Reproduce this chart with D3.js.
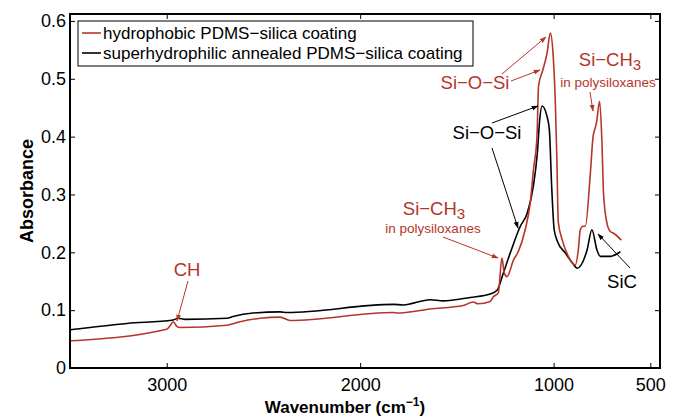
<!DOCTYPE html>
<html>
<head>
<meta charset="utf-8">
<script src="https://cdn.jsdelivr.net/npm/d3@7"></script>
<style>
  body { margin: 0; background: #fff; }
  svg { font-family: "Liberation Sans", Arial, sans-serif; }
</style>
</head>
<body>
<svg></svg>
<script>
const width = 680;
const height = 418;
const margin = {top: 14, right: 20, bottom: 50, left: 70};

const red = '#b5352a';

// wavenumber (cm-1) and absorbance
const hydrophobicWave = [3500, 3000, 2983, 2966, 2948, 2931, 2689, 2621, 2517, 2414, 2362, 1829, 1810,
  1638, 1467, 1416, 1390, 1328, 1311, 1286, 1267, 1255, 1241, 1207, 1183, 1147, 1121, 1104, 1086,
  1078, 1055, 1034, 1017, 1003, 991, 983, 976, 955, 924, 888, 872, 862, 848, 836, 810, 796, 785,
  779, 762, 750, 742, 724, 707, 690, 650];
const hydrophobicAbs = [0.047, 0.067, 0.073, 0.080, 0.072, 0.070, 0.074, 0.080, 0.086, 0.088, 0.082, 0.096, 0.095,
  0.102, 0.108, 0.114, 0.111, 0.115, 0.123, 0.130, 0.190, 0.164, 0.158, 0.187, 0.201, 0.239, 0.285, 0.343, 0.400,
  0.487, 0.516, 0.544, 0.579, 0.544, 0.458, 0.36, 0.253, 0.221, 0.193, 0.178, 0.205, 0.239, 0.245, 0.245, 0.337, 0.400, 0.415,
  0.423, 0.461, 0.389, 0.302, 0.250, 0.236, 0.233, 0.221];

const annealedWave = [3500, 3205, 2967, 2941, 2905, 2688, 2657, 2553, 2414, 2378, 1829, 1778, 1638, 1571,
  1431, 1328, 1291, 1260, 1224, 1172, 1136, 1105, 1084, 1072, 1060, 1034, 1022, 1010, 997, 979, 940,
  903, 878, 827, 802, 776, 759, 707, 655];
const annealedAbs = [0.066, 0.077, 0.083, 0.086, 0.084, 0.086, 0.089, 0.095, 0.097, 0.096, 0.110, 0.109, 0.118, 0.116,
  0.122, 0.128, 0.135, 0.164, 0.199, 0.245, 0.268, 0.314, 0.372, 0.429, 0.453, 0.435, 0.412, 0.314, 0.239, 0.218, 0.199,
  0.182, 0.1725, 0.204, 0.239, 0.204, 0.193, 0.193, 0.201];

const xTicks = [3000, 2000, 1000, 500];
const yTicks = [0, 0.1, 0.2, 0.3, 0.4, 0.5, 0.6];
const seriesNames = ['hydrophobic PDMS\u2212silica coating', 'superhydrophilic annealed PDMS\u2212silica coating'];

const svg = d3.select('svg').attr('width', width).attr('height', height);

const x = d3.scaleLinear().domain([3500, 450]).range([margin.left, width - margin.right]);
const y = d3.scaleLinear().domain([0, 0.612]).range([height - margin.bottom, margin.top]);

const line = d3.line()
    .x(d => x(d[0]))
    .y(d => y(d[1]))
    .curve(d3.curveMonotoneX);

const hydrophobic = d3.zip(hydrophobicWave, hydrophobicAbs);
const annealed = d3.zip(annealedWave, annealedAbs);

// arrow heads
const defs = svg.append('defs');
[['arrowRed', red], ['arrowBlack', '#000']].forEach(([id, c]) => {
    defs.append('marker')
        .attr('id', id)
        .attr('viewBox', '0 0 10 10')
        .attr('refX', 9).attr('refY', 5)
        .attr('markerWidth', 7).attr('markerHeight', 7)
        .attr('orient', 'auto')
        .append('path')
        .attr('d', 'M0,1.5 L10,5 L0,8.5 Z')
        .attr('fill', c);
});

svg.append('path')
    .datum(annealed)
    .attr('d', line)
    .attr('fill', 'none')
    .attr('stroke', '#000')
    .attr('stroke-width', 1.6);

svg.append('path')
    .datum(hydrophobic)
    .attr('d', line)
    .attr('fill', 'none')
    .attr('stroke', red)
    .attr('stroke-width', 1.6);

// axes, ticks pointing inwards on all four sides
const x0 = x.range()[0], x1 = x.range()[1];
const y0 = y.range()[0], y1 = y.range()[1];

const axisB = svg.append('g').attr('transform', `translate(0,${y0})`)
    .call(d3.axisBottom(x).tickValues(xTicks).tickSize(-5).tickPadding(10).tickFormat(d3.format('d')));
const axisT = svg.append('g').attr('transform', `translate(0,${y1})`)
    .call(d3.axisTop(x).tickValues(xTicks).tickSize(-5).tickFormat(''));
const axisL = svg.append('g').attr('transform', `translate(${x0},0)`)
    .call(d3.axisLeft(y).tickValues(yTicks).tickSize(-5).tickPadding(4).tickFormat(d => d === 0 ? '0' : d3.format('.1f')(d)));
const axisR = svg.append('g').attr('transform', `translate(${x1},0)`)
    .call(d3.axisRight(y).tickValues(yTicks).tickSize(-5).tickFormat(''));

[axisB, axisT, axisL, axisR].forEach(g => {
    g.select('.domain').remove();
    g.selectAll('.tick line').attr('stroke', '#000').attr('stroke-width', 1);
    g.selectAll('.tick text').attr('fill', '#000').style('font-size', '18px')
        .style('font-family', '"Liberation Sans", Arial, sans-serif');
});

svg.append('rect')
    .attr('x', x0).attr('y', y1)
    .attr('width', x1 - x0).attr('height', y0 - y1)
    .attr('fill', 'none').attr('stroke', '#000').attr('stroke-width', 2);

// axis titles
svg.append('text')
    .attr('transform', `translate(33,${(y0 + y1) / 2}) rotate(-90)`)
    .attr('text-anchor', 'middle')
    .style('font-size', '18px').style('font-weight', 'bold')
    .text('Absorbance');

const xt = svg.append('text')
    .attr('x', (x0 + x1) / 2 - 20).attr('y', 413)
    .attr('text-anchor', 'middle')
    .style('font-size', '17px').style('font-weight', 'bold');
xt.append('tspan').text('Wavenumber  (cm');
xt.append('tspan').attr('dy', -7).style('font-size', '12px').text('\u22121');
xt.append('tspan').attr('dy', 7).text(')');

// legend
const lg = svg.append('g');
lg.append('rect').attr('x', 78).attr('y', 21).attr('width', 395).attr('height', 45)
    .attr('fill', '#fff').attr('stroke', '#000').attr('stroke-width', 1);
[[red, 33], ['#000', 53]].forEach(([c, ly], i) => {
    lg.append('line').attr('x1', 82).attr('x2', 101).attr('y1', ly).attr('y2', ly)
        .attr('stroke', c).attr('stroke-width', 1.6);
    lg.append('text').attr('x', 103).attr('y', ly + 6)
        .style('font-size', '17px').text(seriesNames[i]);
});

// annotations
function label(tx, ty, text, color, size, anchor) {
    return svg.append('text').attr('x', tx).attr('y', ty)
        .attr('text-anchor', anchor || 'middle')
        .attr('fill', color).style('font-size', size + 'px').text(text);
}
function sich3(tx, ty) {
    const t = svg.append('text').attr('x', tx).attr('y', ty)
        .attr('text-anchor', 'middle').attr('fill', red).style('font-size', '18.5px');
    t.append('tspan').text('Si\u2212CH');
    t.append('tspan').attr('dy', 4).style('font-size', '15px').text('3');
}
function arrow(xa, ya, xb, yb, color, id) {
    svg.append('line')
        .attr('x1', xa).attr('y1', ya).attr('x2', xb).attr('y2', yb)
        .attr('stroke', color).attr('stroke-width', 1)
        .attr('marker-end', `url(#${id})`);
}

label(187, 276, 'CH', red, 18.5);
arrow(188, 281, 177, 321, red, 'arrowRed');

sich3(434, 215);
label(433, 233, 'in polysiloxanes', red, 13.5);
arrow(443, 237, 498, 258, red, 'arrowRed');

label(475, 89, 'Si\u2212O\u2212Si', red, 18.5);
arrow(502, 74, 546, 37, red, 'arrowRed');
arrow(511, 81, 540, 70, red, 'arrowRed');

sich3(610, 66);
label(608, 87, 'in polysiloxanes', red, 13.5);
arrow(590, 92, 593, 111, red, 'arrowRed');

label(487, 139, 'Si\u2212O\u2212Si', '#000', 18.5);
arrow(492, 123, 538, 106, '#000', 'arrowBlack');
arrow(492, 148, 518, 228, '#000', 'arrowBlack');

label(622, 288, 'SiC', '#000', 18.5);
arrow(630, 268, 598, 234, '#000', 'arrowBlack');
</script>
</body>
</html>
